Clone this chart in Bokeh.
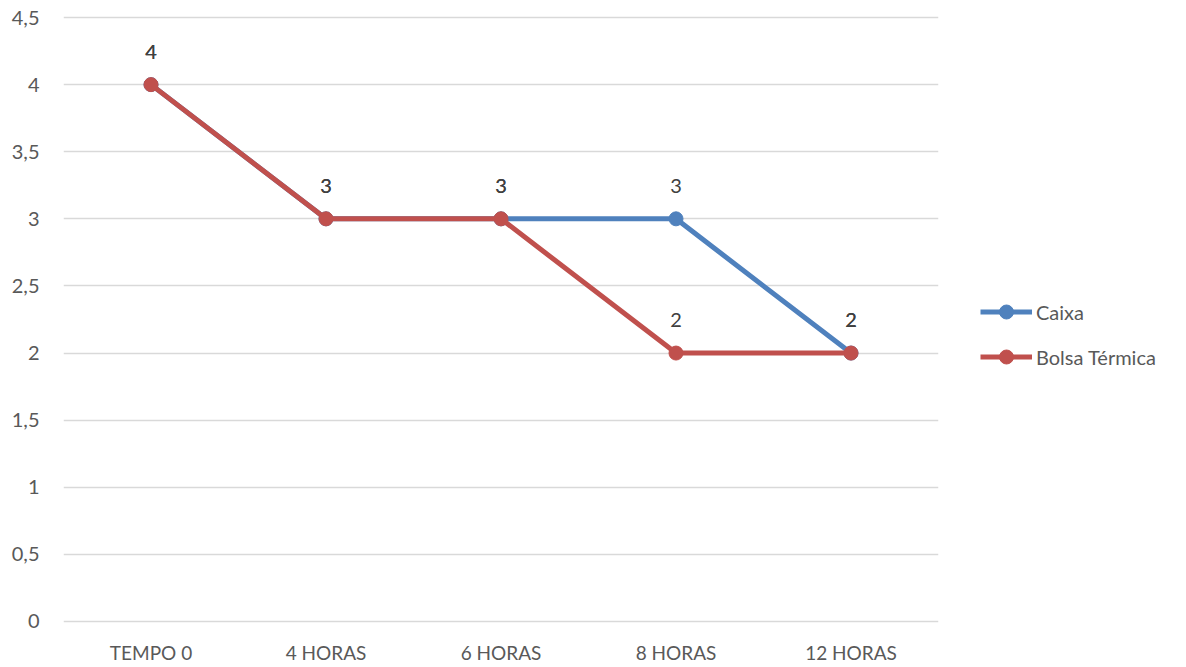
from bokeh.plotting import figure
from bokeh.models import ColumnDataSource, FactorRange, Range1d, FixedTicker, Legend, LegendItem
from bokeh.core.properties import value
from bokeh.embed import file_html
from bokeh.resources import INLINE

categories = ["TEMPO 0", "4 HORAS", "6 HORAS", "8 HORAS", "12 HORAS"]
caixa = [4, 3, 3, 3, 2]
bolsa = [4, 3, 3, 2, 2]
y_ticks = [0, 0.5, 1, 1.5, 2, 2.5, 3, 3.5, 4, 4.5]
y_tick_labels = ["0", "0,5", "1", "1,5", "2", "2,5", "3", "3,5", "4", "4,5"]

FONT = "Lato"
BLUE = "#4F81BD"
RED = "#C0504D"

p = figure(frame_width=875, frame_height=612, x_range=FactorRange(factors=categories),
           y_range=Range1d(-0.03, 4.53), output_backend="svg", toolbar_location=None,
           min_border_left=63, min_border_right=0, min_border_top=13, min_border_bottom=30)
p.outline_line_color = None
p.background_fill_color = "white"
p.border_fill_color = "white"

p.yaxis.ticker = FixedTicker(ticks=y_ticks)
p.yaxis.major_label_overrides = {t: l for t, l in zip(y_ticks, y_tick_labels)}
p.yaxis.axis_line_color = None
p.yaxis.major_tick_line_color = None
p.yaxis.minor_tick_line_color = None
p.yaxis.major_label_text_font = FONT
p.yaxis.major_label_text_font_size = "20px"
p.yaxis.major_label_text_color = "#595959"
p.yaxis.major_label_standoff = 18

p.xaxis.axis_line_color = None
p.xaxis.major_tick_line_color = None
p.xaxis.major_label_text_font = FONT
p.xaxis.major_label_text_font_size = "19px"
p.xaxis.major_label_text_color = "#595959"
p.xaxis.major_label_standoff = 9

p.xgrid.grid_line_color = None
p.ygrid.grid_line_color = "#D9D9D9"
p.ygrid.grid_line_width = 1.5
p.ygrid.ticker = FixedTicker(ticks=y_ticks)

src = ColumnDataSource(dict(x=categories, caixa=caixa, bolsa=bolsa,
                            lc=[str(v) for v in caixa], lb=[str(v) for v in bolsa]))

l1 = p.line("x", "caixa", source=src, line_color=BLUE, line_width=5)
s1 = p.scatter("x", "caixa", source=src, size=14, fill_color=BLUE, line_color=BLUE)
l2 = p.line("x", "bolsa", source=src, line_color=RED, line_width=5)
s2 = p.scatter("x", "bolsa", source=src, size=14, fill_color=RED, line_color=RED)

for col, lab in (("caixa", "lc"), ("bolsa", "lb")):
    p.text("x", col, text=lab, source=src, text_align="center", text_baseline="middle",
           y_offset=-33, text_font=value(FONT), text_font_size="20px", text_color="#404040")

legend = Legend(items=[LegendItem(label="Caixa", renderers=[l1, s1]),
                       LegendItem(label="Bolsa Térmica", renderers=[l2, s2])],
                location=(42, 251), orientation="vertical")
legend.border_line_color = None
legend.background_fill_alpha = 0
legend.label_text_font = FONT
legend.label_text_font_size = "20px"
legend.label_text_color = "#595959"
legend.glyph_width = 52
legend.glyph_height = 35
legend.spacing = 10
legend.label_standoff = 4
legend.label_height = 35
legend.margin = 0
legend.padding = 0
p.add_layout(legend, "right")

open("out.html", "w").write(file_html(p, INLINE))
